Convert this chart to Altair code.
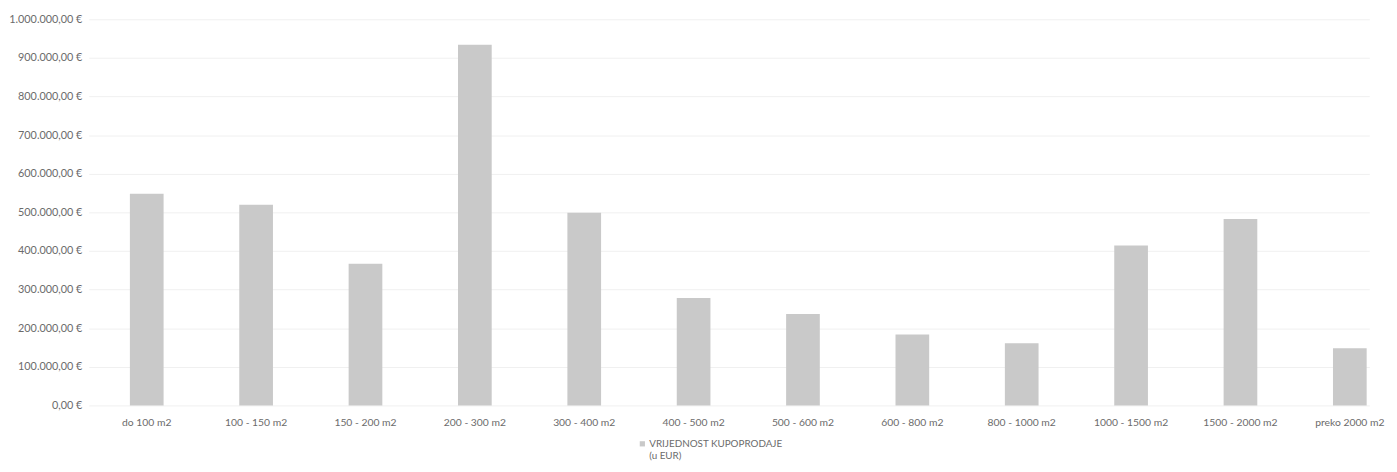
import altair as alt
import pandas as pd

categories = ["do 100 m2", "100 - 150 m2", "150 - 200 m2", "200 - 300 m2", "300 - 400 m2",
              "400 - 500 m2", "500 - 600 m2", "600 - 800 m2", "800 - 1000 m2",
              "1000 - 1500 m2", "1500 - 2000 m2", "preko 2000 m2"]
values = [548000, 520000, 367000, 934000, 499000, 278000, 237000, 184000, 161000,
          414000, 483000, 148000]
series_name = "VRIJEDNOST KUPOPRODAJE|(u EUR)"

df = pd.DataFrame({"cat": categories, "val": values, "series": [series_name] * len(categories)})

FONT = "Lato"
TXT = "#6b6b6b"

chart = alt.Chart(df).mark_bar(color="#c9c9c9").encode(
    x=alt.X("cat:N", sort=categories, title=None,
            scale=alt.Scale(paddingInner=0.692, paddingOuter=0.2, align=0.94, round=False),
            axis=alt.Axis(labelAngle=0, ticks=False, domain=False, labelPadding=12,
                          labelFont=FONT, labelFontSize=10.5, labelColor=TXT,
                          labelOverlap=False, labelBound=False)),
    y=alt.Y("val:Q", title=None,
            scale=alt.Scale(domain=[0, 1000000], nice=False),
            axis=alt.Axis(values=[i * 100000 for i in range(11)], format=",.2f",
                          labelExpr="datum.label + ' €'",
                          ticks=False, domain=False, labelPadding=7,
                          labelFont=FONT, labelFontSize=11, labelColor=TXT,
                          gridColor="#f0f0f0", gridWidth=1)),
    color=alt.Color("series:N", scale=alt.Scale(range=["#c9c9c9"]), title=None,
                    legend=alt.Legend(orient="none", legendX=557, legendY=426,
                                      symbolType="square", symbolSize=28,
                                      labelOffset=2, padding=0,
                                      labelExpr="split(datum.label, '|')",
                                      labelFont=FONT, labelFontSize=10, labelColor=TXT,
                                      labelLimit=300)),
).properties(
    width=1300, height=392,
    autosize=alt.AutoSizeParams(type="none"),
    padding={"left": 82, "top": 8, "right": 20, "bottom": 56},
).configure(
    locale={"number": {"decimal": ",", "thousands": ".", "grouping": [3], "currency": ["", " €"]}},
).configure_view(stroke=None)

chart.save("out.html", embed_options={"renderer": "svg", "actions": False})
